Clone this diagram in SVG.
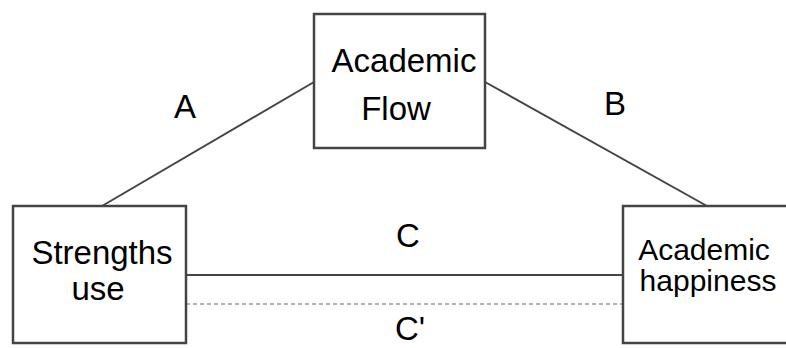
<svg xmlns="http://www.w3.org/2000/svg" width="786" height="348" viewBox="0 0 786 348">
<style>
.box{fill:#fff;stroke:#444;stroke-width:2.5}
.ln{stroke:#444;stroke-width:2;fill:none}
.dash{stroke:#666;stroke-width:1.2;stroke-dasharray:4 3;fill:none}
text{font-family:"Liberation Sans",Arial,sans-serif;font-size:33px;fill:#000;text-anchor:middle}
.sm{font-size:30px}
</style>
<rect width="786" height="348" fill="#fff"/>
<g id="connectors">
<line class="ln" x1="102" y1="206" x2="314" y2="82"/>
<line class="ln" x1="485" y1="82" x2="707" y2="206"/>
<line class="ln" x1="186" y1="275" x2="623" y2="275"/>
<line class="dash" x1="186" y1="304" x2="623" y2="304"/>
<text x="185" y="118">A</text>
<text x="615" y="115">B</text>
<text x="408" y="247">C</text>
<text x="410" y="340">C'</text>
</g>
<g id="flow">
<rect class="box" x="314" y="14" width="171" height="134"/>
<text x="404" y="72">Academic</text>
<text x="396" y="120">Flow</text>
</g>
<g id="strengths">
<rect class="box" x="13" y="206" width="173" height="137"/>
<text x="102" y="264">Strengths</text>
<text x="98" y="300">use</text>
</g>
<g id="happiness">
<rect class="box" x="623" y="206" width="180" height="137"/>
<text class="sm" x="704" y="260">Academic</text>
<text class="sm" x="708" y="291">happiness</text>
</g>
</svg>
